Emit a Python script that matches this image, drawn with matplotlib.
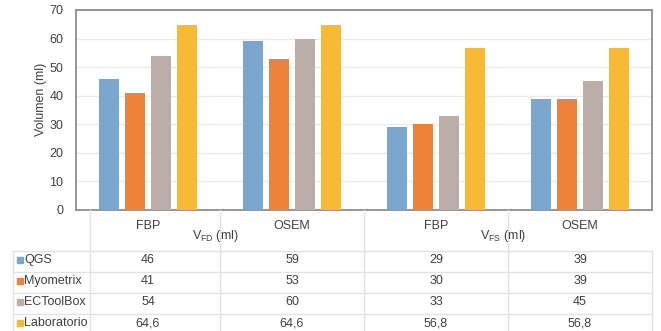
import matplotlib
matplotlib.use("Agg")
import matplotlib.pyplot as plt
import numpy as np

plt.rcParams['font.family'] = ['Liberation Sans', 'DejaVu Sans']
plt.rcParams['mathtext.fontset'] = 'custom'
plt.rcParams['mathtext.rm'] = 'Liberation Sans'
plt.rcParams['mathtext.it'] = 'Liberation Sans:italic'

# Data
categories = ["FBP", "OSEM", "FBP", "OSEM"]
group_labels = [r"V$_{\mathregular{FD}}$ (ml)", r"V$_{\mathregular{FS}}$ (ml)"]
series_names = ["QGS", "Myometrix", "ECToolBox", "Laboratorio"]
qgs = [46, 59, 29, 39]
myometrix = [41, 53, 30, 39]
ectoolbox = [54, 60, 33, 45]
laboratorio = [64.6, 64.6, 56.8, 56.8]
series_values = [qgs, myometrix, ectoolbox, laboratorio]
colors = ["#7BA7CF", "#EE823A", "#BBAEA8", "#F7BA35"]
y_ticks = [0, 10, 20, 30, 40, 50, 60, 70]

W, H = 661, 331
fig = plt.figure(figsize=(W / 100, H / 100), dpi=100)
txt_col = "#404040"
fs = 9

# Plot area in pixel coordinates
left, right, top, bottom = 76, 652, 10, 210
ax = fig.add_axes([left / W, 1 - bottom / H, (right - left) / W, (bottom - top) / H])

n_cat = len(categories)
x = np.arange(n_cat)
bar_w = 0.14
step = 0.18
for i, (vals, col) in enumerate(zip(series_values, colors)):
    ax.bar(x + (i - 1.5) * step, vals, width=bar_w, color=col, zorder=3)

ax.set_xlim(-0.5, n_cat - 0.5)
ax.set_ylim(0, 70)
ax.set_yticks(y_ticks)
ax.set_yticklabels([str(t) for t in y_ticks], fontsize=fs, color=txt_col)
ax.set_xticks([])
ax.tick_params(axis='y', length=0, pad=9)
ax.grid(axis='y', color="#EBEBEB", linewidth=1, zorder=0)
for s in ax.spines.values():
    s.set_color("#8E8E8E")
    s.set_linewidth(1.3)
ax.set_ylabel("Volumen (ml)", fontsize=fs, color=txt_col)
ax.yaxis.set_label_coords(-29 / (right - left), 0.555)

# Data table below the plot, drawn in pixel coordinates
tab = fig.add_axes([0, 0, 1, 1], facecolor="none")
tab.set_xlim(0, W)
tab.set_ylim(H, 0)
tab.axis("off")

line_col = "#E2E2E2"
label_left = 13
label_right = 90
cat_edges = np.linspace(left, right, n_cat + 1)
row_tops = [250.5, 271.5, 292.5, 313.5]
row_h = 21
table_bottom = row_tops[-1] + row_h

# horizontal lines
for yy in row_tops + [table_bottom]:
    tab.plot([label_left, right], [yy, yy], color=line_col, lw=1)
# vertical lines
tab.plot([label_left, label_left], [row_tops[0], table_bottom], color=line_col, lw=1)
tab.plot([label_right, label_right], [bottom, table_bottom], color=line_col, lw=1)
for xe in cat_edges[1:-1]:
    tab.plot([xe, xe], [bottom, table_bottom], color=line_col, lw=1)
tab.plot([right, right], [row_tops[0], table_bottom], color=line_col, lw=1)

# header: categories and group labels
cat_centers = (cat_edges[:-1] + cat_edges[1:]) / 2
for cx, c in zip(cat_centers, categories):
    tab.text(cx, 226, c, ha="center", va="center", fontsize=fs, color=txt_col)
for g, lab in enumerate(group_labels):
    gx = (cat_edges[2 * g] + cat_edges[2 * g + 2]) / 2 - 5
    tab.text(gx, 236, lab, ha="center", va="center", fontsize=fs, color=txt_col)

# rows
for r, (name, vals, col) in enumerate(zip(series_names, series_values, colors)):
    yc = row_tops[r] + row_h / 2 - 1
    tab.add_patch(plt.Rectangle((17, yc - 3), 6, 6, color=col))
    tab.text(24, yc, name, ha="left", va="center", fontsize=fs, color=txt_col)
    for cx, v in zip(cat_centers, vals):
        txt = f"{v:g}".replace(".", ",")
        tab.text(cx, yc, txt, ha="center", va="center", fontsize=fs, color=txt_col)

fig.savefig("out.png", dpi=100)
